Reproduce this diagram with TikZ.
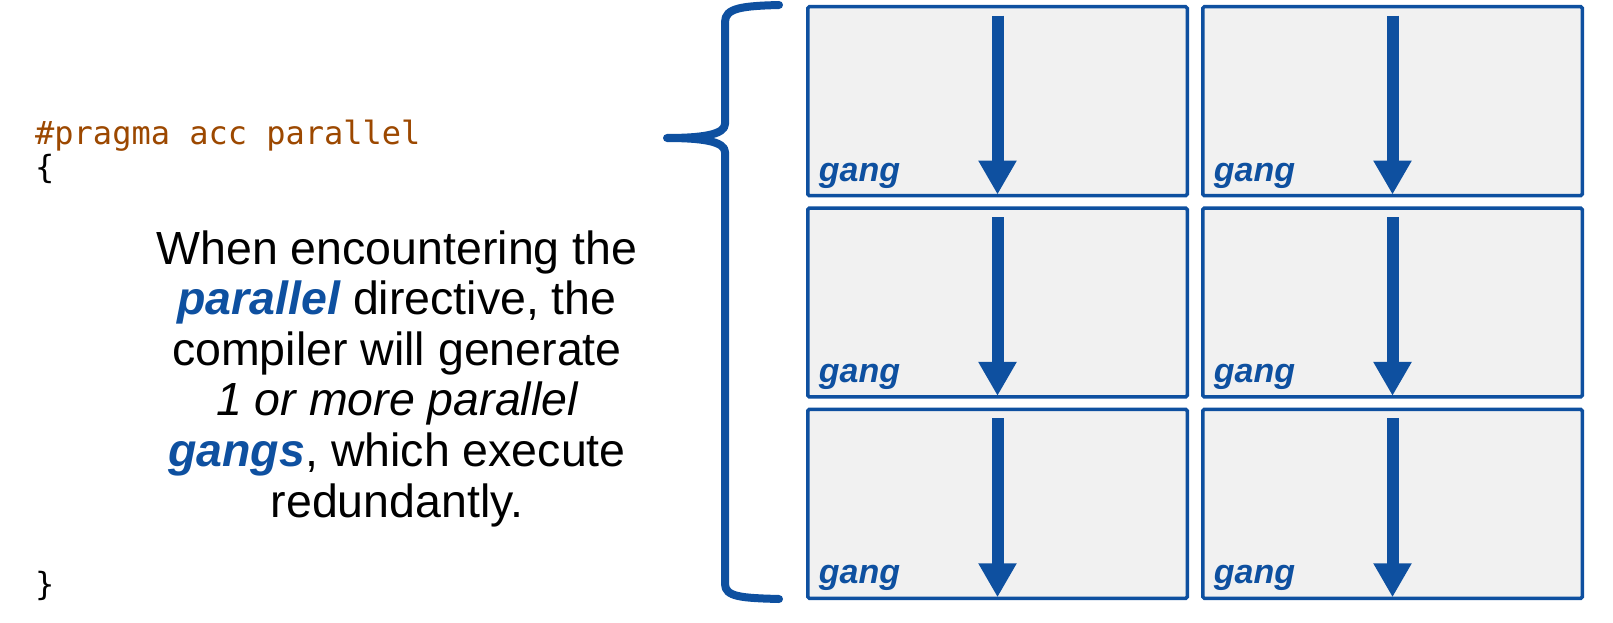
\documentclass[tikz,border=0pt]{standalone}
\usepackage{fontspec}
\setmainfont{Liberation Sans}
\newfontfamily\codefont{DejaVu Sans Mono}
\usetikzlibrary{arrows.meta}
\definecolor{gblue}{RGB}{14,80,160}
\definecolor{gfill}{RGB}{241,241,241}
\definecolor{codebrown}{RGB}{156,72,0}
\tikzset{
  gangbox/.style={draw=gblue, fill=gfill, line width=3.5pt, rounded corners=1.5pt,
    minimum width=379.5pt, minimum height=188.8pt, inner sep=0pt, outer sep=0pt},
  gangarrow/.style={draw=gblue, line width=12pt, -{Triangle[width=36pt,length=34pt]}},
  ganglabel/.style={text=gblue, font=\fontsize{34}{34}\selectfont\bfseries\itshape, inner sep=0pt, anchor=base west},
  codeline/.style={font=\codefont\fontsize{32}{32}\selectfont, inner sep=0pt, anchor=base west},
  mainline/.style={font=\fontsize{46.5}{50}\selectfont, inner sep=0pt, anchor=base},
  bracket/.style={draw=gblue, line width=8pt, line cap=round, line join=round}
}
\begin{document}
\begin{tikzpicture}[x=1pt,y=-1pt]
\useasboundingbox (0,0) rectangle (1613,623);
% code
\node[codeline, text=codebrown] (c1) at (35,144) {\#pragma acc parallel};
\node[codeline] (c2) at (35,178) {\{};
\node[codeline] (c3) at (35,595) {\}};
% explanation
\node[mainline] (l1) at (397,264) {When encountering the};
\node[mainline] (l2) at (397,314.6) {\textcolor{gblue}{\bfseries\itshape parallel} directive, the};
\node[mainline] (l3) at (397,365.2) {compiler will generate};
\node[mainline] (l4) at (397,415.8) {\itshape 1 or more parallel};
\node[mainline] (l5) at (397,466.4) {\textcolor{gblue}{\bfseries\itshape gangs}, which execute};
\node[mainline] (l6) at (397,517) {redundantly.};
% bracket
\draw[bracket] (779,5) .. controls (742,6) and (725,8) .. (725,22) -- (725,124)
  .. controls (725,135) and (700,138) .. (667,138)
  .. controls (700,138) and (725,141) .. (725,152) -- (725,584)
  .. controls (725,597) and (742,598) .. (779,599);
% boxes
\foreach \c/\x in {1/997.5, 2/1392.5} {
  \foreach \r/\y in {1/101.15, 2/302.5, 3/503.85} {
    \node[gangbox] (b\r\c) at (\x,\y) {};
    \draw[gangarrow] ([yshift=-9pt]b\r\c.north) -- ([yshift=1pt]b\r\c.south);
    \node[ganglabel] (g\r\c) at ([xshift=11pt,yshift=14.5pt]b\r\c.south west) {gang};
  }
}
\end{tikzpicture}
\end{document}
